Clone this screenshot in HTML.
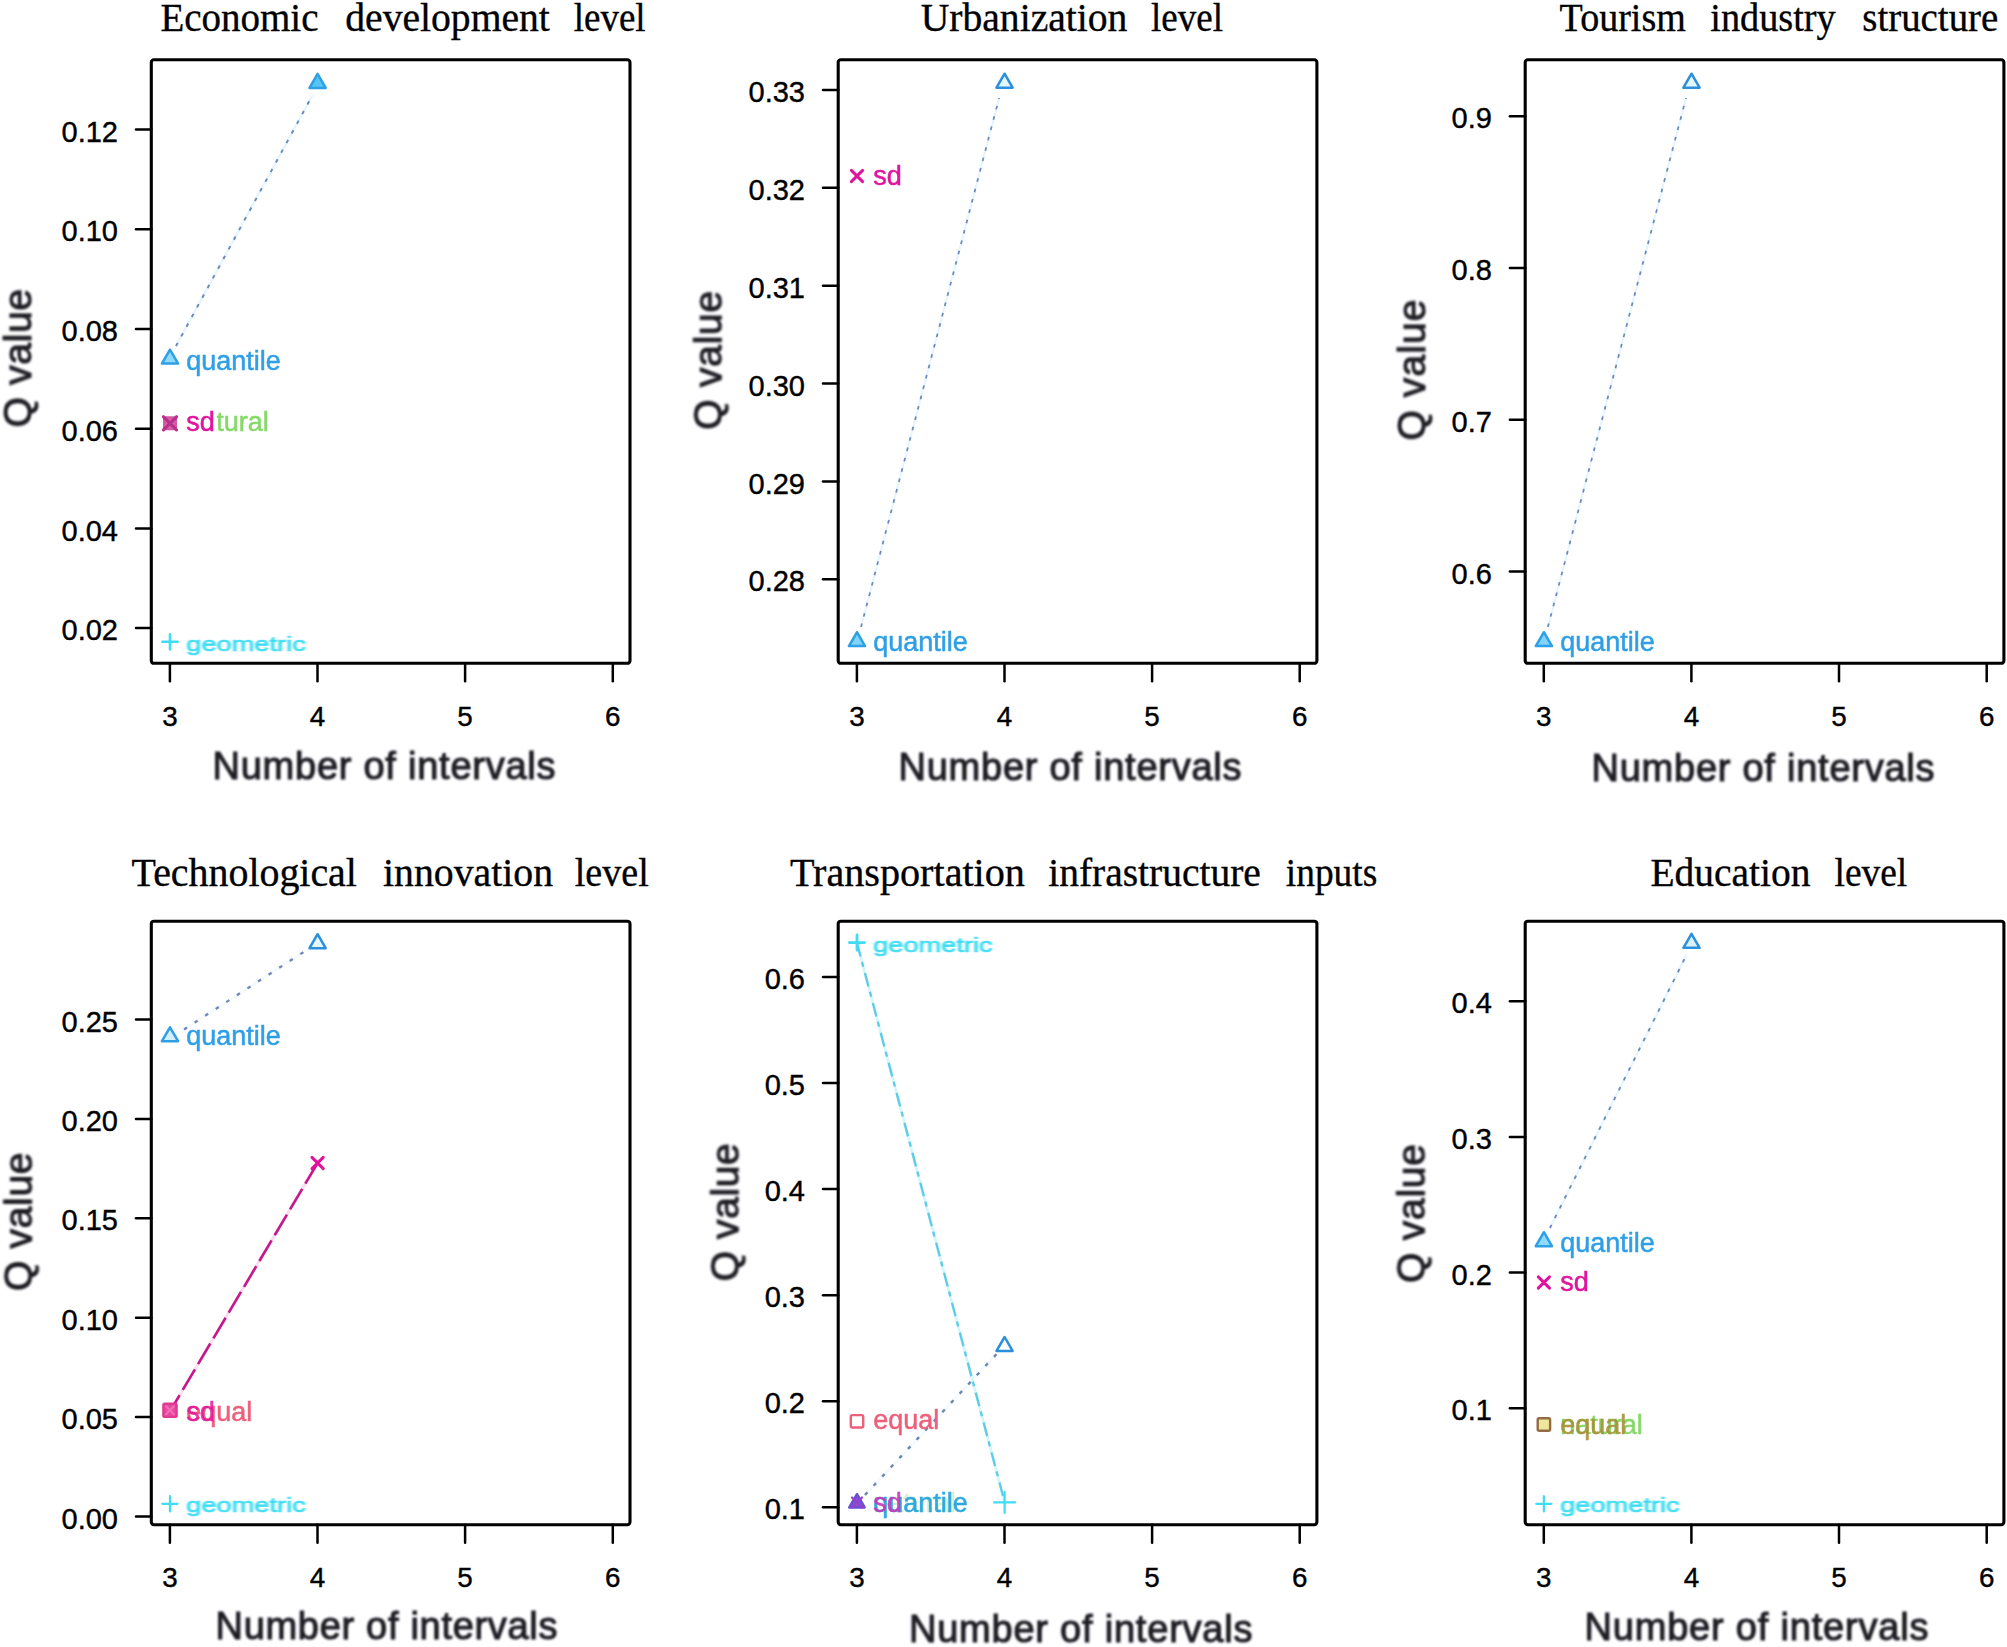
<!DOCTYPE html>
<html lang="en"><head><meta charset="utf-8"><title>Q value vs number of intervals</title>
<style>html,body{margin:0;padding:0;background:#fff}svg{display:block}</style></head>
<body>
<svg width="2007" height="1647" viewBox="0 0 2007 1647">
<defs><filter id="b1" x="-5%" y="-30%" width="110%" height="160%"><feGaussianBlur stdDeviation="0.7"/></filter><filter id="b3" x="-5%" y="-30%" width="110%" height="160%"><feGaussianBlur stdDeviation="1.0"/></filter><filter id="b2" x="-5%" y="-30%" width="110%" height="160%"><feGaussianBlur stdDeviation="0.9"/></filter></defs>
<rect width="2007" height="1647" fill="#fff"/>
<text y="30.7" font-family="Liberation Serif, Times New Roman, serif" font-size="40" fill="#000" stroke="#000" stroke-width="0.35"><tspan x="160.4" textLength="158.1" lengthAdjust="spacingAndGlyphs">Economic</tspan> <tspan x="345.3" textLength="204.5" lengthAdjust="spacingAndGlyphs">development</tspan> <tspan x="573.8" textLength="71.8" lengthAdjust="spacingAndGlyphs">level</tspan></text>
<line x1="176.0" y1="346.0" x2="312.6" y2="95.0" stroke="#bfe6fb" stroke-width="2.3" stroke-opacity="0.4"/>
<line x1="176.0" y1="346.0" x2="312.6" y2="95.0" stroke="#6a88bc" stroke-width="1.9" stroke-dasharray="3.6 7.4" stroke-opacity="1"/>
<path d="M317.6 73.9 L325.7 87.9 L309.5 87.9 Z" fill="#56c4f5" stroke="#2f9fe6" stroke-width="2.5" stroke-linejoin="round"/>
<path d="M170.0 349.7 L178.1 363.6 L161.9 363.6 Z" fill="#8fdcfa" stroke="#2f9fe6" stroke-width="2.5" stroke-linejoin="round"/>
<text x="186.3" y="369.5" font-family="Liberation Sans, Arial, sans-serif" font-size="27.0" fill="#2f9fe6" fill-opacity="1" stroke="#2f9fe6" stroke-width="0.5" stroke-opacity="1" filter="url(#b1)">quantile</text>
<rect x="164.2" y="417.5" width="11.6" height="11.6" rx="1.5" fill="#dc5fae" stroke="#d45aa6" stroke-width="2.4"/>
<path d="M163.5 416.8 L176.5 429.8 M163.5 429.8 L176.5 416.8" fill="none" stroke="#b8308a" stroke-width="3.2" stroke-linecap="round"/>
<text x="186.3" y="431.0" font-family="Liberation Sans, Arial, sans-serif" font-size="27.0" fill="#86d868" fill-opacity="1" stroke="#86d868" stroke-width="0.5" stroke-opacity="1" filter="url(#b1)">natural</text>
<rect x="185.3" y="409.0" width="31.5" height="25" fill="#fff"/>
<text x="186.3" y="431.0" font-family="Liberation Sans, Arial, sans-serif" font-size="27.0" fill="#e0139c" fill-opacity="1" stroke="#e0139c" stroke-width="0.5" stroke-opacity="1" filter="url(#b1)">sd</text>
<path d="M162.4 641.8 L177.6 641.8 M170.0 634.2 L170.0 649.4" fill="none" stroke="#3fdcf2" stroke-width="2.6" stroke-linecap="round"/>
<text transform="translate(186.3 650.5) scale(1 0.78)" x="0" y="0" font-family="Liberation Sans, Arial, sans-serif" font-size="27.0" fill="#3fdcf2" fill-opacity="1" stroke="#3fdcf2" stroke-width="0.9" stroke-opacity="1" filter="url(#b3)" textLength="119.5" lengthAdjust="spacingAndGlyphs">geometric</text>
<rect x="151.3" y="59.8" width="478.7" height="603.5" rx="2.6" fill="none" stroke="#000" stroke-width="3.1" stroke-linejoin="round"/>
<line x1="169.9" y1="663.3" x2="169.9" y2="681.3" stroke="#000" stroke-width="2.5" stroke-linecap="round"/>
<text x="169.9" y="725.6" text-anchor="middle" font-family="Liberation Sans, Arial, sans-serif" font-size="27.8" fill="#000" stroke="#000" stroke-width="0.4">3</text>
<line x1="317.5" y1="663.3" x2="317.5" y2="681.3" stroke="#000" stroke-width="2.5" stroke-linecap="round"/>
<text x="317.5" y="725.6" text-anchor="middle" font-family="Liberation Sans, Arial, sans-serif" font-size="27.8" fill="#000" stroke="#000" stroke-width="0.4">4</text>
<line x1="465.1" y1="663.3" x2="465.1" y2="681.3" stroke="#000" stroke-width="2.5" stroke-linecap="round"/>
<text x="465.1" y="725.6" text-anchor="middle" font-family="Liberation Sans, Arial, sans-serif" font-size="27.8" fill="#000" stroke="#000" stroke-width="0.4">5</text>
<line x1="612.8" y1="663.3" x2="612.8" y2="681.3" stroke="#000" stroke-width="2.5" stroke-linecap="round"/>
<text x="612.8" y="725.6" text-anchor="middle" font-family="Liberation Sans, Arial, sans-serif" font-size="27.8" fill="#000" stroke="#000" stroke-width="0.4">6</text>
<line x1="136.0" y1="129.6" x2="151.3" y2="129.6" stroke="#000" stroke-width="2.5" stroke-linecap="round"/>
<text x="118.0" y="141.7" text-anchor="end" font-family="Liberation Sans, Arial, sans-serif" font-size="29" fill="#000" stroke="#000" stroke-width="0.4">0.12</text>
<line x1="136.0" y1="229.3" x2="151.3" y2="229.3" stroke="#000" stroke-width="2.5" stroke-linecap="round"/>
<text x="118.0" y="241.4" text-anchor="end" font-family="Liberation Sans, Arial, sans-serif" font-size="29" fill="#000" stroke="#000" stroke-width="0.4">0.10</text>
<line x1="136.0" y1="329.0" x2="151.3" y2="329.0" stroke="#000" stroke-width="2.5" stroke-linecap="round"/>
<text x="118.0" y="341.1" text-anchor="end" font-family="Liberation Sans, Arial, sans-serif" font-size="29" fill="#000" stroke="#000" stroke-width="0.4">0.08</text>
<line x1="136.0" y1="428.7" x2="151.3" y2="428.7" stroke="#000" stroke-width="2.5" stroke-linecap="round"/>
<text x="118.0" y="440.8" text-anchor="end" font-family="Liberation Sans, Arial, sans-serif" font-size="29" fill="#000" stroke="#000" stroke-width="0.4">0.06</text>
<line x1="136.0" y1="528.4" x2="151.3" y2="528.4" stroke="#000" stroke-width="2.5" stroke-linecap="round"/>
<text x="118.0" y="540.5" text-anchor="end" font-family="Liberation Sans, Arial, sans-serif" font-size="29" fill="#000" stroke="#000" stroke-width="0.4">0.04</text>
<line x1="136.0" y1="628.1" x2="151.3" y2="628.1" stroke="#000" stroke-width="2.5" stroke-linecap="round"/>
<text x="118.0" y="640.2" text-anchor="end" font-family="Liberation Sans, Arial, sans-serif" font-size="29" fill="#000" stroke="#000" stroke-width="0.4">0.02</text>
<text x="212.5" y="778.5" font-family="Liberation Sans, Arial, sans-serif" font-size="38" fill="#1e1e24" stroke="#1e1e24" stroke-width="1.1" textLength="343.0" lengthAdjust="spacing" filter="url(#b2)">Number of intervals</text>
<text transform="translate(31.0 427.4) rotate(-90)" x="0" y="0" font-family="Liberation Sans, Arial, sans-serif" font-size="39" fill="#1e1e24" stroke="#1e1e24" stroke-width="1.1" textLength="138.5" lengthAdjust="spacing" filter="url(#b2)">Q value</text>
<text y="30.7" font-family="Liberation Serif, Times New Roman, serif" font-size="40" fill="#000" stroke="#000" stroke-width="0.35"><tspan x="920.7" textLength="206.7" lengthAdjust="spacingAndGlyphs">Urbanization</tspan> <tspan x="1151.0" textLength="72.0" lengthAdjust="spacingAndGlyphs">level</tspan></text>
<line x1="861.0" y1="627.0" x2="999.1" y2="98.0" stroke="#bfe6fb" stroke-width="2.1" stroke-opacity="0.4"/>
<line x1="861.0" y1="627.0" x2="999.1" y2="98.0" stroke="#6a88bc" stroke-width="1.7" stroke-dasharray="3.6 7.1" stroke-opacity="1"/>
<path d="M1004.6 73.7 L1012.6 87.7 L996.5 87.7 Z" fill="#e4f6fe" stroke="#2b8fdc" stroke-width="2.5" stroke-linejoin="round"/>
<path d="M857.0 632.2 L865.0 646.1 L848.9 646.1 Z" fill="#7fd4f8" stroke="#2f9fe6" stroke-width="2.5" stroke-linejoin="round"/>
<text x="873.2" y="651.2" font-family="Liberation Sans, Arial, sans-serif" font-size="27.0" fill="#2f9fe6" fill-opacity="1" stroke="#2f9fe6" stroke-width="0.5" stroke-opacity="1" filter="url(#b1)">quantile</text>
<path d="M851.4 170.4 L862.6 181.6 M851.4 181.6 L862.6 170.4" fill="none" stroke="#e0139c" stroke-width="3.0" stroke-linecap="round"/>
<text x="873.2" y="184.5" font-family="Liberation Sans, Arial, sans-serif" font-size="27.0" fill="#e0139c" fill-opacity="1" stroke="#e0139c" stroke-width="0.5" stroke-opacity="1" filter="url(#b1)">sd</text>
<rect x="838.2" y="59.8" width="478.7" height="603.5" rx="2.6" fill="none" stroke="#000" stroke-width="3.1" stroke-linejoin="round"/>
<line x1="856.9" y1="663.3" x2="856.9" y2="681.3" stroke="#000" stroke-width="2.5" stroke-linecap="round"/>
<text x="856.9" y="725.6" text-anchor="middle" font-family="Liberation Sans, Arial, sans-serif" font-size="27.8" fill="#000" stroke="#000" stroke-width="0.4">3</text>
<line x1="1004.5" y1="663.3" x2="1004.5" y2="681.3" stroke="#000" stroke-width="2.5" stroke-linecap="round"/>
<text x="1004.5" y="725.6" text-anchor="middle" font-family="Liberation Sans, Arial, sans-serif" font-size="27.8" fill="#000" stroke="#000" stroke-width="0.4">4</text>
<line x1="1152.1" y1="663.3" x2="1152.1" y2="681.3" stroke="#000" stroke-width="2.5" stroke-linecap="round"/>
<text x="1152.1" y="725.6" text-anchor="middle" font-family="Liberation Sans, Arial, sans-serif" font-size="27.8" fill="#000" stroke="#000" stroke-width="0.4">5</text>
<line x1="1299.7" y1="663.3" x2="1299.7" y2="681.3" stroke="#000" stroke-width="2.5" stroke-linecap="round"/>
<text x="1299.7" y="725.6" text-anchor="middle" font-family="Liberation Sans, Arial, sans-serif" font-size="27.8" fill="#000" stroke="#000" stroke-width="0.4">6</text>
<line x1="823.0" y1="90.0" x2="838.2" y2="90.0" stroke="#000" stroke-width="2.5" stroke-linecap="round"/>
<text x="805.0" y="102.1" text-anchor="end" font-family="Liberation Sans, Arial, sans-serif" font-size="29" fill="#000" stroke="#000" stroke-width="0.4">0.33</text>
<line x1="823.0" y1="187.8" x2="838.2" y2="187.8" stroke="#000" stroke-width="2.5" stroke-linecap="round"/>
<text x="805.0" y="199.9" text-anchor="end" font-family="Liberation Sans, Arial, sans-serif" font-size="29" fill="#000" stroke="#000" stroke-width="0.4">0.32</text>
<line x1="823.0" y1="285.7" x2="838.2" y2="285.7" stroke="#000" stroke-width="2.5" stroke-linecap="round"/>
<text x="805.0" y="297.8" text-anchor="end" font-family="Liberation Sans, Arial, sans-serif" font-size="29" fill="#000" stroke="#000" stroke-width="0.4">0.31</text>
<line x1="823.0" y1="383.5" x2="838.2" y2="383.5" stroke="#000" stroke-width="2.5" stroke-linecap="round"/>
<text x="805.0" y="395.6" text-anchor="end" font-family="Liberation Sans, Arial, sans-serif" font-size="29" fill="#000" stroke="#000" stroke-width="0.4">0.30</text>
<line x1="823.0" y1="481.4" x2="838.2" y2="481.4" stroke="#000" stroke-width="2.5" stroke-linecap="round"/>
<text x="805.0" y="493.5" text-anchor="end" font-family="Liberation Sans, Arial, sans-serif" font-size="29" fill="#000" stroke="#000" stroke-width="0.4">0.29</text>
<line x1="823.0" y1="579.2" x2="838.2" y2="579.2" stroke="#000" stroke-width="2.5" stroke-linecap="round"/>
<text x="805.0" y="591.4" text-anchor="end" font-family="Liberation Sans, Arial, sans-serif" font-size="29" fill="#000" stroke="#000" stroke-width="0.4">0.28</text>
<text x="898.5" y="779.5" font-family="Liberation Sans, Arial, sans-serif" font-size="38" fill="#1e1e24" stroke="#1e1e24" stroke-width="1.1" textLength="343.0" lengthAdjust="spacing" filter="url(#b2)">Number of intervals</text>
<text transform="translate(721.3 429.8) rotate(-90)" x="0" y="0" font-family="Liberation Sans, Arial, sans-serif" font-size="39" fill="#1e1e24" stroke="#1e1e24" stroke-width="1.1" textLength="139.0" lengthAdjust="spacing" filter="url(#b2)">Q value</text>
<text y="30.7" font-family="Liberation Serif, Times New Roman, serif" font-size="40" fill="#000" stroke="#000" stroke-width="0.35"><tspan x="1559.6" textLength="126.2" lengthAdjust="spacingAndGlyphs">Tourism</tspan> <tspan x="1710.3" textLength="125.3" lengthAdjust="spacingAndGlyphs">industry</tspan> <tspan x="1862.3" textLength="136.0" lengthAdjust="spacingAndGlyphs">structure</tspan></text>
<line x1="1547.9" y1="627.0" x2="1686.0" y2="98.0" stroke="#bfe6fb" stroke-width="2.1" stroke-opacity="0.4"/>
<line x1="1547.9" y1="627.0" x2="1686.0" y2="98.0" stroke="#6a88bc" stroke-width="1.7" stroke-dasharray="3.6 7.1" stroke-opacity="1"/>
<path d="M1691.5 73.7 L1699.6 87.7 L1683.4 87.7 Z" fill="#e4f6fe" stroke="#2b8fdc" stroke-width="2.5" stroke-linejoin="round"/>
<path d="M1543.9 632.2 L1552.0 646.1 L1535.8 646.1 Z" fill="#7fd4f8" stroke="#2f9fe6" stroke-width="2.5" stroke-linejoin="round"/>
<text x="1560.2" y="651.2" font-family="Liberation Sans, Arial, sans-serif" font-size="27.0" fill="#2f9fe6" fill-opacity="1" stroke="#2f9fe6" stroke-width="0.5" stroke-opacity="1" filter="url(#b1)">quantile</text>
<rect x="1525.2" y="59.8" width="478.7" height="603.5" rx="2.6" fill="none" stroke="#000" stroke-width="3.1" stroke-linejoin="round"/>
<line x1="1543.8" y1="663.3" x2="1543.8" y2="681.3" stroke="#000" stroke-width="2.5" stroke-linecap="round"/>
<text x="1543.8" y="725.6" text-anchor="middle" font-family="Liberation Sans, Arial, sans-serif" font-size="27.8" fill="#000" stroke="#000" stroke-width="0.4">3</text>
<line x1="1691.4" y1="663.3" x2="1691.4" y2="681.3" stroke="#000" stroke-width="2.5" stroke-linecap="round"/>
<text x="1691.4" y="725.6" text-anchor="middle" font-family="Liberation Sans, Arial, sans-serif" font-size="27.8" fill="#000" stroke="#000" stroke-width="0.4">4</text>
<line x1="1839.0" y1="663.3" x2="1839.0" y2="681.3" stroke="#000" stroke-width="2.5" stroke-linecap="round"/>
<text x="1839.0" y="725.6" text-anchor="middle" font-family="Liberation Sans, Arial, sans-serif" font-size="27.8" fill="#000" stroke="#000" stroke-width="0.4">5</text>
<line x1="1986.7" y1="663.3" x2="1986.7" y2="681.3" stroke="#000" stroke-width="2.5" stroke-linecap="round"/>
<text x="1986.7" y="725.6" text-anchor="middle" font-family="Liberation Sans, Arial, sans-serif" font-size="27.8" fill="#000" stroke="#000" stroke-width="0.4">6</text>
<line x1="1509.9" y1="116.2" x2="1525.2" y2="116.2" stroke="#000" stroke-width="2.5" stroke-linecap="round"/>
<text x="1491.9" y="128.3" text-anchor="end" font-family="Liberation Sans, Arial, sans-serif" font-size="29" fill="#000" stroke="#000" stroke-width="0.4">0.9</text>
<line x1="1509.9" y1="268.0" x2="1525.2" y2="268.0" stroke="#000" stroke-width="2.5" stroke-linecap="round"/>
<text x="1491.9" y="280.1" text-anchor="end" font-family="Liberation Sans, Arial, sans-serif" font-size="29" fill="#000" stroke="#000" stroke-width="0.4">0.8</text>
<line x1="1509.9" y1="419.8" x2="1525.2" y2="419.8" stroke="#000" stroke-width="2.5" stroke-linecap="round"/>
<text x="1491.9" y="431.9" text-anchor="end" font-family="Liberation Sans, Arial, sans-serif" font-size="29" fill="#000" stroke="#000" stroke-width="0.4">0.7</text>
<line x1="1509.9" y1="571.6" x2="1525.2" y2="571.6" stroke="#000" stroke-width="2.5" stroke-linecap="round"/>
<text x="1491.9" y="583.7" text-anchor="end" font-family="Liberation Sans, Arial, sans-serif" font-size="29" fill="#000" stroke="#000" stroke-width="0.4">0.6</text>
<text x="1591.5" y="780.5" font-family="Liberation Sans, Arial, sans-serif" font-size="38" fill="#1e1e24" stroke="#1e1e24" stroke-width="1.1" textLength="343.0" lengthAdjust="spacing" filter="url(#b2)">Number of intervals</text>
<text transform="translate(1425.0 440.5) rotate(-90)" x="0" y="0" font-family="Liberation Sans, Arial, sans-serif" font-size="39" fill="#1e1e24" stroke="#1e1e24" stroke-width="1.1" textLength="141.0" lengthAdjust="spacing" filter="url(#b2)">Q value</text>
<text y="885.9" font-family="Liberation Serif, Times New Roman, serif" font-size="40" fill="#000" stroke="#000" stroke-width="0.35"><tspan x="131.6" textLength="225.3" lengthAdjust="spacingAndGlyphs">Technological</tspan> <tspan x="383.0" textLength="170.0" lengthAdjust="spacingAndGlyphs">innovation</tspan> <tspan x="574.8" textLength="73.9" lengthAdjust="spacingAndGlyphs">level</tspan></text>
<line x1="184.0" y1="1029.5" x2="303.6" y2="952.0" stroke="#e4f3fc" stroke-width="2.6999999999999997" stroke-opacity="0.4"/>
<line x1="184.0" y1="1029.5" x2="303.6" y2="952.0" stroke="#7088b8" stroke-width="2.3" stroke-dasharray="3.6 9" stroke-opacity="1"/>
<path d="M317.6 934.2 L325.7 948.2 L309.5 948.2 Z" fill="#e4f6fe" stroke="#2b8fdc" stroke-width="2.5" stroke-linejoin="round"/>
<path d="M170.0 1027.3 L178.1 1041.2 L161.9 1041.2 Z" fill="#d4effc" stroke="#2f9fe6" stroke-width="2.5" stroke-linejoin="round"/>
<text x="186.3" y="1044.8" font-family="Liberation Sans, Arial, sans-serif" font-size="27.0" fill="#2f9fe6" fill-opacity="1" stroke="#2f9fe6" stroke-width="0.5" stroke-opacity="1" filter="url(#b1)">quantile</text>
<line x1="317.6" y1="1163.0" x2="172.0" y2="1408.0" stroke="#f7a8dc" stroke-width="3.0" stroke-opacity="0.4"/>
<line x1="317.6" y1="1163.0" x2="172.0" y2="1408.0" stroke="#c4188c" stroke-width="2.6" stroke-dasharray="24 6" stroke-opacity="1"/>
<path d="M312.0 1157.4 L323.2 1168.6 M312.0 1168.6 L323.2 1157.4" fill="none" stroke="#e0139c" stroke-width="3.0" stroke-linecap="round"/>
<rect x="163.4" y="1403.7" width="13.2" height="13.2" rx="1.5" fill="#ea4a9e" stroke="#e03a92" stroke-width="2.4"/>
<path d="M166.0 1406.3 L174.0 1414.3 M166.0 1414.3 L174.0 1406.3" fill="none" stroke="#f070b8" stroke-width="2" stroke-linecap="round"/>
<text x="186.3" y="1420.5" font-family="Liberation Sans, Arial, sans-serif" font-size="27.0" fill="#ee5f7c" fill-opacity="1" stroke="#ee5f7c" stroke-width="0.5" stroke-opacity="1" filter="url(#b1)">equal</text>
<text x="186.3" y="1420.5" font-family="Liberation Sans, Arial, sans-serif" font-size="27.0" fill="#e0139c" fill-opacity="0.8" stroke="#e0139c" stroke-width="0.5" stroke-opacity="0.8" filter="url(#b1)">sd</text>
<path d="M162.4 1503.8 L177.6 1503.8 M170.0 1496.2 L170.0 1511.4" fill="none" stroke="#3fdcf2" stroke-width="2.2" stroke-linecap="round"/>
<text transform="translate(186.3 1511.5) scale(1 0.78)" x="0" y="0" font-family="Liberation Sans, Arial, sans-serif" font-size="27.0" fill="#3fdcf2" fill-opacity="1" stroke="#3fdcf2" stroke-width="0.9" stroke-opacity="1" filter="url(#b3)" textLength="119.5" lengthAdjust="spacingAndGlyphs">geometric</text>
<rect x="151.3" y="921.2" width="478.7" height="603.5" rx="2.6" fill="none" stroke="#000" stroke-width="3.1" stroke-linejoin="round"/>
<line x1="169.9" y1="1524.7" x2="169.9" y2="1542.7" stroke="#000" stroke-width="2.5" stroke-linecap="round"/>
<text x="169.9" y="1587.0" text-anchor="middle" font-family="Liberation Sans, Arial, sans-serif" font-size="27.8" fill="#000" stroke="#000" stroke-width="0.4">3</text>
<line x1="317.5" y1="1524.7" x2="317.5" y2="1542.7" stroke="#000" stroke-width="2.5" stroke-linecap="round"/>
<text x="317.5" y="1587.0" text-anchor="middle" font-family="Liberation Sans, Arial, sans-serif" font-size="27.8" fill="#000" stroke="#000" stroke-width="0.4">4</text>
<line x1="465.1" y1="1524.7" x2="465.1" y2="1542.7" stroke="#000" stroke-width="2.5" stroke-linecap="round"/>
<text x="465.1" y="1587.0" text-anchor="middle" font-family="Liberation Sans, Arial, sans-serif" font-size="27.8" fill="#000" stroke="#000" stroke-width="0.4">5</text>
<line x1="612.8" y1="1524.7" x2="612.8" y2="1542.7" stroke="#000" stroke-width="2.5" stroke-linecap="round"/>
<text x="612.8" y="1587.0" text-anchor="middle" font-family="Liberation Sans, Arial, sans-serif" font-size="27.8" fill="#000" stroke="#000" stroke-width="0.4">6</text>
<line x1="136.0" y1="1019.5" x2="151.3" y2="1019.5" stroke="#000" stroke-width="2.5" stroke-linecap="round"/>
<text x="118.0" y="1031.6" text-anchor="end" font-family="Liberation Sans, Arial, sans-serif" font-size="29" fill="#000" stroke="#000" stroke-width="0.4">0.25</text>
<line x1="136.0" y1="1118.9" x2="151.3" y2="1118.9" stroke="#000" stroke-width="2.5" stroke-linecap="round"/>
<text x="118.0" y="1131.0" text-anchor="end" font-family="Liberation Sans, Arial, sans-serif" font-size="29" fill="#000" stroke="#000" stroke-width="0.4">0.20</text>
<line x1="136.0" y1="1218.3" x2="151.3" y2="1218.3" stroke="#000" stroke-width="2.5" stroke-linecap="round"/>
<text x="118.0" y="1230.4" text-anchor="end" font-family="Liberation Sans, Arial, sans-serif" font-size="29" fill="#000" stroke="#000" stroke-width="0.4">0.15</text>
<line x1="136.0" y1="1317.7" x2="151.3" y2="1317.7" stroke="#000" stroke-width="2.5" stroke-linecap="round"/>
<text x="118.0" y="1329.8" text-anchor="end" font-family="Liberation Sans, Arial, sans-serif" font-size="29" fill="#000" stroke="#000" stroke-width="0.4">0.10</text>
<line x1="136.0" y1="1417.1" x2="151.3" y2="1417.1" stroke="#000" stroke-width="2.5" stroke-linecap="round"/>
<text x="118.0" y="1429.2" text-anchor="end" font-family="Liberation Sans, Arial, sans-serif" font-size="29" fill="#000" stroke="#000" stroke-width="0.4">0.05</text>
<line x1="136.0" y1="1516.5" x2="151.3" y2="1516.5" stroke="#000" stroke-width="2.5" stroke-linecap="round"/>
<text x="118.0" y="1528.6" text-anchor="end" font-family="Liberation Sans, Arial, sans-serif" font-size="29" fill="#000" stroke="#000" stroke-width="0.4">0.00</text>
<text x="215.5" y="1639.4" font-family="Liberation Sans, Arial, sans-serif" font-size="38" fill="#1e1e24" stroke="#1e1e24" stroke-width="1.1" textLength="342.0" lengthAdjust="spacing" filter="url(#b2)">Number of intervals</text>
<text transform="translate(31.6 1291.0) rotate(-90)" x="0" y="0" font-family="Liberation Sans, Arial, sans-serif" font-size="39" fill="#1e1e24" stroke="#1e1e24" stroke-width="1.1" textLength="138.5" lengthAdjust="spacing" filter="url(#b2)">Q value</text>
<text y="885.9" font-family="Liberation Serif, Times New Roman, serif" font-size="40" fill="#000" stroke="#000" stroke-width="0.35"><tspan x="790.0" textLength="234.9" lengthAdjust="spacingAndGlyphs">Transportation</tspan> <tspan x="1048.3" textLength="212.5" lengthAdjust="spacingAndGlyphs">infrastructure</tspan> <tspan x="1285.8" textLength="91.5" lengthAdjust="spacingAndGlyphs">inputs</tspan></text>
<line x1="857.0" y1="943.0" x2="1004.6" y2="1502.0" stroke="#7fe8f4" stroke-width="2.6999999999999997" stroke-opacity="0.35"/>
<line x1="857.0" y1="943.0" x2="1004.6" y2="1502.0" stroke="#48c4e4" stroke-width="2.3" stroke-dasharray="14 5.5 5 6.5" stroke-opacity="0.85"/>
<line x1="865.0" y1="1495.0" x2="996.6" y2="1354.0" stroke="#e4f3fc" stroke-width="2.8" stroke-opacity="0.4"/>
<line x1="865.0" y1="1495.0" x2="996.6" y2="1354.0" stroke="#6a86b4" stroke-width="2.4" stroke-dasharray="3.6 9" stroke-opacity="1"/>
<path d="M849.4 942.6 L864.6 942.6 M857.0 935.0 L857.0 950.2" fill="none" stroke="#3fdcf2" stroke-width="2.8" stroke-linecap="round"/>
<text transform="translate(873.2 952.4) scale(1 0.78)" x="0" y="0" font-family="Liberation Sans, Arial, sans-serif" font-size="27.0" fill="#3fdcf2" fill-opacity="1" stroke="#3fdcf2" stroke-width="0.9" stroke-opacity="1" filter="url(#b3)" textLength="119.5" lengthAdjust="spacingAndGlyphs">geometric</text>
<path d="M1004.6 1337.0 L1012.6 1350.9 L996.5 1350.9 Z" fill="none" stroke="#2b8fdc" stroke-width="2.5" stroke-linejoin="round"/>
<path d="M994.1 1502.4 L1015.1 1502.4 M1004.6 1491.9 L1004.6 1512.9" fill="none" stroke="#3fdcf2" stroke-width="2.2" stroke-linecap="round"/>
<rect x="850.8" y="1415.1" width="12.4" height="12.4" rx="1.5" fill="none" stroke="#ee5f7c" stroke-width="2.4"/>
<text x="873.2" y="1429.3" font-family="Liberation Sans, Arial, sans-serif" font-size="27.0" fill="#ee5f7c" fill-opacity="1" stroke="#ee5f7c" stroke-width="0.5" stroke-opacity="1" filter="url(#b1)">equal</text>
<path d="M857.0 1494.2 L864.6 1507.4 L849.3 1507.4 Z" fill="#7c58dc" stroke="#6a4fd0" stroke-width="2.5" stroke-linejoin="round"/>
<path d="M852.0 1497.5 L862.0 1507.5 M852.0 1507.5 L862.0 1497.5" fill="none" stroke="#9a3fc8" stroke-width="2.2" stroke-linecap="round"/>
<text x="873.2" y="1511.5" font-family="Liberation Sans, Arial, sans-serif" font-size="27.0" fill="#86d868" fill-opacity="0.3" stroke="#86d868" stroke-width="0.5" stroke-opacity="0.3" filter="url(#b1)">natural</text>
<text x="873.2" y="1511.5" font-family="Liberation Sans, Arial, sans-serif" font-size="27.0" fill="#2fa8e0" fill-opacity="1" stroke="#2fa8e0" stroke-width="0.5" stroke-opacity="1" filter="url(#b1)">quantile</text>
<text x="873.2" y="1511.5" font-family="Liberation Sans, Arial, sans-serif" font-size="27.0" fill="#c838b8" fill-opacity="0.9" stroke="#c838b8" stroke-width="0.5" stroke-opacity="0.9" filter="url(#b1)">sd</text>
<rect x="838.2" y="921.2" width="478.7" height="603.5" rx="2.6" fill="none" stroke="#000" stroke-width="3.1" stroke-linejoin="round"/>
<line x1="856.9" y1="1524.7" x2="856.9" y2="1542.7" stroke="#000" stroke-width="2.5" stroke-linecap="round"/>
<text x="856.9" y="1587.0" text-anchor="middle" font-family="Liberation Sans, Arial, sans-serif" font-size="27.8" fill="#000" stroke="#000" stroke-width="0.4">3</text>
<line x1="1004.5" y1="1524.7" x2="1004.5" y2="1542.7" stroke="#000" stroke-width="2.5" stroke-linecap="round"/>
<text x="1004.5" y="1587.0" text-anchor="middle" font-family="Liberation Sans, Arial, sans-serif" font-size="27.8" fill="#000" stroke="#000" stroke-width="0.4">4</text>
<line x1="1152.1" y1="1524.7" x2="1152.1" y2="1542.7" stroke="#000" stroke-width="2.5" stroke-linecap="round"/>
<text x="1152.1" y="1587.0" text-anchor="middle" font-family="Liberation Sans, Arial, sans-serif" font-size="27.8" fill="#000" stroke="#000" stroke-width="0.4">5</text>
<line x1="1299.7" y1="1524.7" x2="1299.7" y2="1542.7" stroke="#000" stroke-width="2.5" stroke-linecap="round"/>
<text x="1299.7" y="1587.0" text-anchor="middle" font-family="Liberation Sans, Arial, sans-serif" font-size="27.8" fill="#000" stroke="#000" stroke-width="0.4">6</text>
<line x1="823.0" y1="977.0" x2="838.2" y2="977.0" stroke="#000" stroke-width="2.5" stroke-linecap="round"/>
<text x="805.0" y="989.1" text-anchor="end" font-family="Liberation Sans, Arial, sans-serif" font-size="29" fill="#000" stroke="#000" stroke-width="0.4">0.6</text>
<line x1="823.0" y1="1083.0" x2="838.2" y2="1083.0" stroke="#000" stroke-width="2.5" stroke-linecap="round"/>
<text x="805.0" y="1095.1" text-anchor="end" font-family="Liberation Sans, Arial, sans-serif" font-size="29" fill="#000" stroke="#000" stroke-width="0.4">0.5</text>
<line x1="823.0" y1="1189.1" x2="838.2" y2="1189.1" stroke="#000" stroke-width="2.5" stroke-linecap="round"/>
<text x="805.0" y="1201.2" text-anchor="end" font-family="Liberation Sans, Arial, sans-serif" font-size="29" fill="#000" stroke="#000" stroke-width="0.4">0.4</text>
<line x1="823.0" y1="1295.2" x2="838.2" y2="1295.2" stroke="#000" stroke-width="2.5" stroke-linecap="round"/>
<text x="805.0" y="1307.2" text-anchor="end" font-family="Liberation Sans, Arial, sans-serif" font-size="29" fill="#000" stroke="#000" stroke-width="0.4">0.3</text>
<line x1="823.0" y1="1401.2" x2="838.2" y2="1401.2" stroke="#000" stroke-width="2.5" stroke-linecap="round"/>
<text x="805.0" y="1413.3" text-anchor="end" font-family="Liberation Sans, Arial, sans-serif" font-size="29" fill="#000" stroke="#000" stroke-width="0.4">0.2</text>
<line x1="823.0" y1="1507.2" x2="838.2" y2="1507.2" stroke="#000" stroke-width="2.5" stroke-linecap="round"/>
<text x="805.0" y="1519.3" text-anchor="end" font-family="Liberation Sans, Arial, sans-serif" font-size="29" fill="#000" stroke="#000" stroke-width="0.4">0.1</text>
<text x="908.9" y="1642.4" font-family="Liberation Sans, Arial, sans-serif" font-size="38" fill="#1e1e24" stroke="#1e1e24" stroke-width="1.1" textLength="343.6" lengthAdjust="spacing" filter="url(#b2)">Number of intervals</text>
<text transform="translate(738.3 1281.3) rotate(-90)" x="0" y="0" font-family="Liberation Sans, Arial, sans-serif" font-size="39" fill="#1e1e24" stroke="#1e1e24" stroke-width="1.1" textLength="138.0" lengthAdjust="spacing" filter="url(#b2)">Q value</text>
<text y="885.9" font-family="Liberation Serif, Times New Roman, serif" font-size="40" fill="#000" stroke="#000" stroke-width="0.35"><tspan x="1650.5" textLength="159.9" lengthAdjust="spacingAndGlyphs">Education</tspan> <tspan x="1834.5" textLength="72.7" lengthAdjust="spacingAndGlyphs">level</tspan></text>
<line x1="1549.9" y1="1228.0" x2="1686.5" y2="955.0" stroke="#bfe6fb" stroke-width="2.2" stroke-opacity="0.4"/>
<line x1="1549.9" y1="1228.0" x2="1686.5" y2="955.0" stroke="#6a88bc" stroke-width="1.8" stroke-dasharray="3.6 7.4" stroke-opacity="1"/>
<path d="M1691.5 933.9 L1699.6 947.8 L1683.4 947.8 Z" fill="#d8f1fd" stroke="#2b8fdc" stroke-width="2.5" stroke-linejoin="round"/>
<path d="M1543.9 1232.2 L1552.0 1246.2 L1535.8 1246.2 Z" fill="#8fdcfa" stroke="#2f9fe6" stroke-width="2.5" stroke-linejoin="round"/>
<text x="1560.2" y="1251.5" font-family="Liberation Sans, Arial, sans-serif" font-size="27.0" fill="#2f9fe6" fill-opacity="1" stroke="#2f9fe6" stroke-width="0.5" stroke-opacity="1" filter="url(#b1)">quantile</text>
<path d="M1538.3 1276.9 L1549.5 1288.1 M1538.3 1288.1 L1549.5 1276.9" fill="none" stroke="#e0139c" stroke-width="3.0" stroke-linecap="round"/>
<text x="1560.2" y="1291.0" font-family="Liberation Sans, Arial, sans-serif" font-size="27.0" fill="#e0139c" fill-opacity="1" stroke="#e0139c" stroke-width="0.5" stroke-opacity="1" filter="url(#b1)">sd</text>
<rect x="1537.7" y="1418.3" width="12.4" height="12.4" rx="1.5" fill="#efe89c" stroke="#946c44" stroke-width="2.4"/>
<text x="1560.2" y="1433.5" font-family="Liberation Sans, Arial, sans-serif" font-size="27.0" fill="#86d868" fill-opacity="1" stroke="#86d868" stroke-width="0.5" stroke-opacity="1" filter="url(#b1)">natural</text>
<text x="1560.2" y="1433.5" font-family="Liberation Sans, Arial, sans-serif" font-size="27.0" fill="#a8913a" fill-opacity="0.9" stroke="#a8913a" stroke-width="0.5" stroke-opacity="0.9" filter="url(#b1)">equal</text>
<path d="M1536.3 1503.8 L1551.5 1503.8 M1543.9 1496.2 L1543.9 1511.4" fill="none" stroke="#3fdcf2" stroke-width="2.2" stroke-linecap="round"/>
<text transform="translate(1560.2 1511.8) scale(1 0.78)" x="0" y="0" font-family="Liberation Sans, Arial, sans-serif" font-size="27.0" fill="#3fdcf2" fill-opacity="1" stroke="#3fdcf2" stroke-width="0.9" stroke-opacity="1" filter="url(#b3)" textLength="119.5" lengthAdjust="spacingAndGlyphs">geometric</text>
<rect x="1525.2" y="921.2" width="478.7" height="603.5" rx="2.6" fill="none" stroke="#000" stroke-width="3.1" stroke-linejoin="round"/>
<line x1="1543.8" y1="1524.7" x2="1543.8" y2="1542.7" stroke="#000" stroke-width="2.5" stroke-linecap="round"/>
<text x="1543.8" y="1587.0" text-anchor="middle" font-family="Liberation Sans, Arial, sans-serif" font-size="27.8" fill="#000" stroke="#000" stroke-width="0.4">3</text>
<line x1="1691.4" y1="1524.7" x2="1691.4" y2="1542.7" stroke="#000" stroke-width="2.5" stroke-linecap="round"/>
<text x="1691.4" y="1587.0" text-anchor="middle" font-family="Liberation Sans, Arial, sans-serif" font-size="27.8" fill="#000" stroke="#000" stroke-width="0.4">4</text>
<line x1="1839.0" y1="1524.7" x2="1839.0" y2="1542.7" stroke="#000" stroke-width="2.5" stroke-linecap="round"/>
<text x="1839.0" y="1587.0" text-anchor="middle" font-family="Liberation Sans, Arial, sans-serif" font-size="27.8" fill="#000" stroke="#000" stroke-width="0.4">5</text>
<line x1="1986.7" y1="1524.7" x2="1986.7" y2="1542.7" stroke="#000" stroke-width="2.5" stroke-linecap="round"/>
<text x="1986.7" y="1587.0" text-anchor="middle" font-family="Liberation Sans, Arial, sans-serif" font-size="27.8" fill="#000" stroke="#000" stroke-width="0.4">6</text>
<line x1="1509.9" y1="1001.2" x2="1525.2" y2="1001.2" stroke="#000" stroke-width="2.5" stroke-linecap="round"/>
<text x="1491.9" y="1013.4" text-anchor="end" font-family="Liberation Sans, Arial, sans-serif" font-size="29" fill="#000" stroke="#000" stroke-width="0.4">0.4</text>
<line x1="1509.9" y1="1136.9" x2="1525.2" y2="1136.9" stroke="#000" stroke-width="2.5" stroke-linecap="round"/>
<text x="1491.9" y="1149.0" text-anchor="end" font-family="Liberation Sans, Arial, sans-serif" font-size="29" fill="#000" stroke="#000" stroke-width="0.4">0.3</text>
<line x1="1509.9" y1="1272.6" x2="1525.2" y2="1272.6" stroke="#000" stroke-width="2.5" stroke-linecap="round"/>
<text x="1491.9" y="1284.7" text-anchor="end" font-family="Liberation Sans, Arial, sans-serif" font-size="29" fill="#000" stroke="#000" stroke-width="0.4">0.2</text>
<line x1="1509.9" y1="1408.2" x2="1525.2" y2="1408.2" stroke="#000" stroke-width="2.5" stroke-linecap="round"/>
<text x="1491.9" y="1420.3" text-anchor="end" font-family="Liberation Sans, Arial, sans-serif" font-size="29" fill="#000" stroke="#000" stroke-width="0.4">0.1</text>
<text x="1584.5" y="1640.4" font-family="Liberation Sans, Arial, sans-serif" font-size="38" fill="#1e1e24" stroke="#1e1e24" stroke-width="1.1" textLength="344.0" lengthAdjust="spacing" filter="url(#b2)">Number of intervals</text>
<text transform="translate(1424.4 1283.0) rotate(-90)" x="0" y="0" font-family="Liberation Sans, Arial, sans-serif" font-size="39" fill="#1e1e24" stroke="#1e1e24" stroke-width="1.1" textLength="139.0" lengthAdjust="spacing" filter="url(#b2)">Q value</text>
</svg>
</body></html>
